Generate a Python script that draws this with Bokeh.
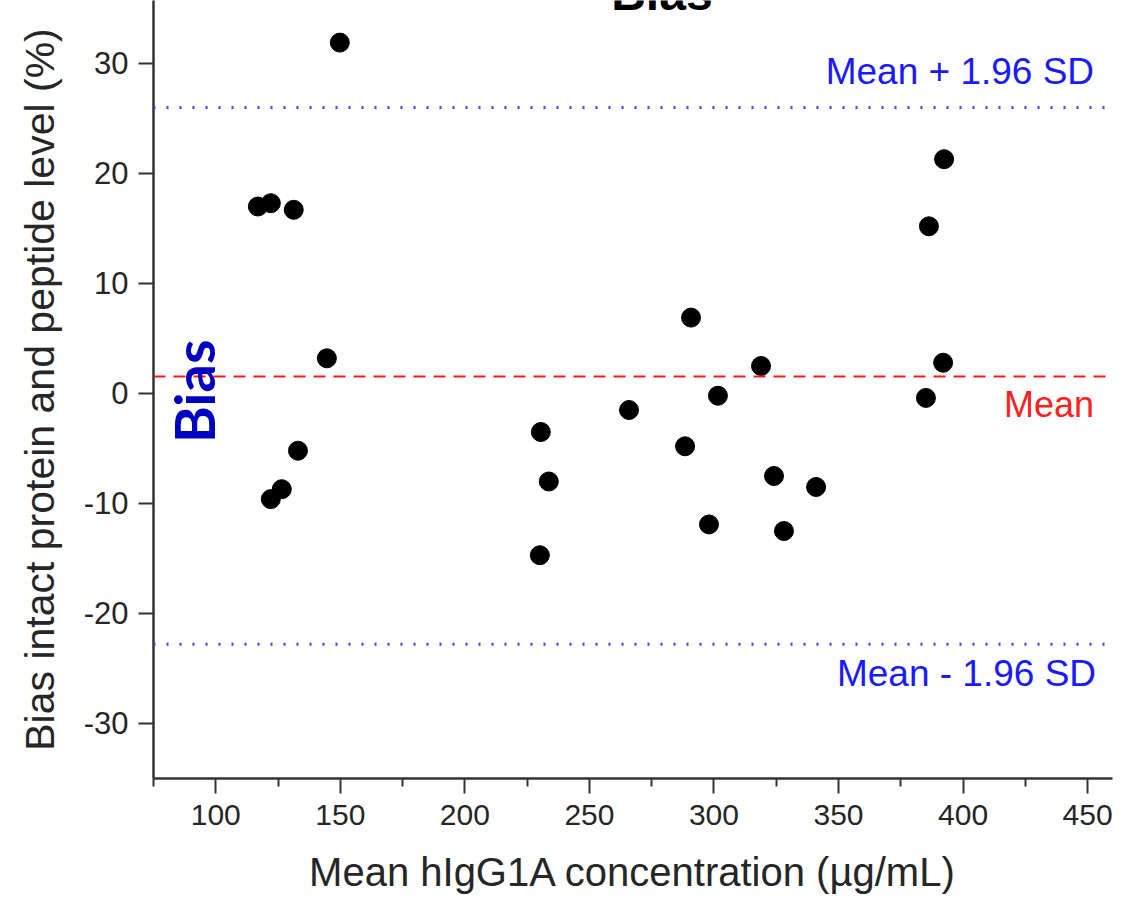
import numpy as np
from bokeh.plotting import figure
from bokeh.models import Span, Label, FixedTicker, Range1d, PrintfTickFormatter
from bokeh.embed import file_html
from bokeh.resources import INLINE

# ---- data ----
mean_conc = [116.9, 122.1, 131.3, 149.8, 144.6, 133.0, 122.1, 126.5,
             230.5, 230.1, 233.7, 265.9, 290.8, 288.4, 298.0, 301.6,
             318.9, 324.1, 328.1, 341.0, 385.1, 386.3, 392.4, 392.0]
bias_pct = [17.0, 17.3, 16.7, 31.9, 3.2, -5.2, -9.6, -8.7,
            -3.5, -14.7, -8.0, -1.5, 6.9, -4.8, -11.9, -0.2,
            2.5, -7.5, -12.5, -8.5, -0.4, 15.2, 21.3, 2.8]
x_ticks = [100, 150, 200, 250, 300, 350, 400, 450]
x_minor = [75, 125, 175, 225, 275, 325, 375, 425]
y_ticks = [-30, -20, -10, 0, 10, 20, 30]
mean_bias = 1.55
upper_loa = 26.0
lower_loa = -22.8

FONT = "Liberation Sans"
TXT = "#262626"

p = figure(width=1130, height=899, output_backend="svg", toolbar_location=None,
           x_range=Range1d(75, 460), y_range=Range1d(-35, 35.727),
           min_border_left=153, min_border_right=18, min_border_top=0,
           min_border_bottom=121)
p.outline_line_color = None
p.xgrid.grid_line_color = None
p.ygrid.grid_line_color = None
p.background_fill_color = "white"

p.xaxis.ticker = FixedTicker(ticks=x_ticks, minor_ticks=x_minor)
p.yaxis.ticker = FixedTicker(ticks=y_ticks)
p.yaxis.formatter = PrintfTickFormatter(format="%d")
p.xaxis.formatter = PrintfTickFormatter(format="%d")

for ax in (p.xaxis[0], p.yaxis[0]):
    ax.axis_line_width = 2.5
    ax.axis_line_color = "#333333"
    ax.major_tick_line_width = 2
    ax.major_tick_line_color = "#333333"
    ax.major_tick_out = 15
    ax.major_tick_in = 0
    ax.major_label_text_font = FONT
    ax.major_label_text_color = TXT
    ax.axis_label_text_font = FONT
    ax.axis_label_text_font_style = "normal"
    ax.axis_label_text_color = TXT

p.xaxis.minor_tick_line_width = 2
p.xaxis.minor_tick_line_color = "#333333"
p.xaxis.minor_tick_out = 8
p.xaxis.minor_tick_in = 0
p.yaxis.minor_tick_line_color = None

p.xaxis.major_label_text_font_size = "30px"
p.yaxis.major_label_text_font_size = "31px"
p.xaxis.major_label_standoff = 11
p.yaxis.major_label_standoff = 10

p.xaxis.axis_label = "Mean hIgG1A concentration (µg/mL)"
p.yaxis.axis_label = "Bias intact protein and peptide level (%)"
p.xaxis.axis_label_text_font_size = "40px"
p.yaxis.axis_label_text_font_size = "41px"
p.xaxis.axis_label_standoff = 22
p.yaxis.axis_label_standoff = 18

# reference lines
p.add_layout(Span(location=mean_bias, dimension="width", line_color="#ff1a1a",
                  line_dash="12 8", line_width=2))
p.add_layout(Span(location=upper_loa, dimension="width", line_color="#4040ff",
                  line_dash="2 11", line_width=3))
p.add_layout(Span(location=lower_loa, dimension="width", line_color="#4040ff",
                  line_dash="2 11", line_width=3))

# points
p.scatter(mean_conc, bias_pct, size=19, color="black")

# labels
p.add_layout(Label(x=452.6, y=29.3, text="Mean + 1.96 SD", text_align="right",
                   text_baseline="middle", text_font=FONT, text_font_size="37px",
                   text_color="#1a1aff"))
p.add_layout(Label(x=453.4, y=-25.5, text="Mean - 1.96 SD", text_align="right",
                   text_baseline="middle", text_font=FONT, text_font_size="37px",
                   text_color="#1a1aff"))
p.add_layout(Label(x=452.6, y=-1.0, text="Mean", text_align="right",
                   text_baseline="middle", text_font=FONT, text_font_size="36px",
                   text_color="#ff2020"))
p.add_layout(Label(x=91.2, y=0.2, text="Bias", text_align="center",
                   text_baseline="middle", angle=np.pi / 2, text_font="Lato",
                   text_font_style="bold", text_font_size="56px",
                   text_color="#0000c0"))
p.add_layout(Label(x=279.1, y=36.36, text="Bias", text_align="center",
                   text_baseline="alphabetic", text_font=FONT,
                   text_font_style="bold", text_font_size="48px",
                   text_color="black"))

open("out.html", "w").write(file_html(p, INLINE))
